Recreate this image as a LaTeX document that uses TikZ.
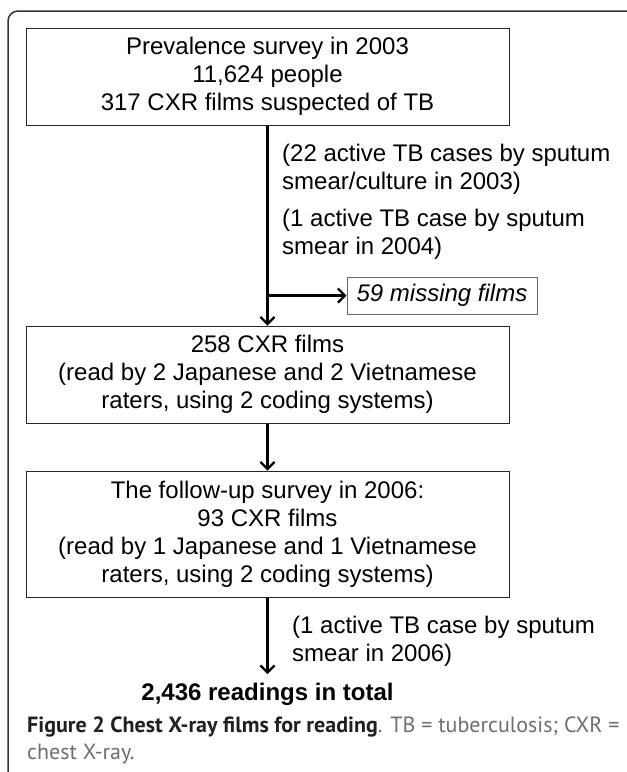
\documentclass[tikz,border=0pt]{standalone}
\usepackage{fontspec}
\setmainfont{Liberation Sans}
\newfontfamily\capfont{PT Sans}
\usetikzlibrary{arrows.meta}
\definecolor{capgray}{HTML}{6D6E71}
\definecolor{capdark}{HTML}{231F20}
\begin{document}
\begin{tikzpicture}[x=1pt,y=-1pt,
  txt/.style={font=\fontsize{24}{28}\selectfont},
  box/.style={txt, draw=black!85, line width=1pt, minimum width=483pt, inner sep=0pt, align=center},
  conn/.style={line width=2.6pt, -{Straight Barb[length=7pt,width=14pt,line width=2.2pt]}},
  lbl/.style={txt, inner sep=0pt, align=left, anchor=west}
]
\useasboundingbox (0,0) rectangle (627,772);
\draw[overlay, line width=1.5pt, black!80, rounded corners=10pt] (8,800) -- (8,11) -- (660,11);

\node[box, minimum height=97pt] (b1) at (267.5,76.5) {Prevalence survey in 2003\\11,624 people\\317 CXR films suspected of TB};
\node[box, minimum height=97pt] (b2) at (267.5,374.5) {258 CXR films\\(read by 2 Japanese and 2 Vietnamese\\raters, using 2 coding systems)};
\node[box, minimum height=126pt] (b3) at (267.5,534) {The follow-up survey in 2006:\\93 CXR films\\(read by 1 Japanese and 1 Vietnamese\\raters, using 2 coding systems)};
\node[txt, draw=black!60, line width=1pt, minimum width=190pt, minimum height=37pt, inner sep=0pt, font=\fontsize{24}{28}\selectfont\itshape] (miss) at (442,295.5) {59 missing films};

\node[lbl] (l1) at (282,169) {(22 active TB cases by sputum\\smear/culture in 2003)};
\node[lbl] (l2) at (282,234) {(1 active TB case by sputum\\smear in 2004)};
\node[lbl] (l3) at (292,641) {(1 active TB case by sputum\\smear in 2006)};

\node[txt, inner sep=0pt, font=\fontsize{24}{28}\selectfont\bfseries] (tot) at (267.5,694) {2,436 readings in total};
\coordinate (tip) at (267.5,674);

\draw[conn] (b1.south) -- (b2.north);
\draw[conn] (b1.south |- miss.west) -- (miss.west);
\draw[conn] (b2.south) -- (b3.north);
\draw[conn] (b3.south) -- (tip);

\node[inner sep=0pt, anchor=north west, align=left, font=\capfont\fontsize{22}{27}\selectfont] (cap) at (27,717) {\textcolor{capdark}{\bfseries Figure 2 Chest X-ray films for reading}\textcolor{capgray}{. TB = tuberculosis; CXR =}\\\textcolor{capgray}{chest X-ray.}};
\end{tikzpicture}
\end{document}
